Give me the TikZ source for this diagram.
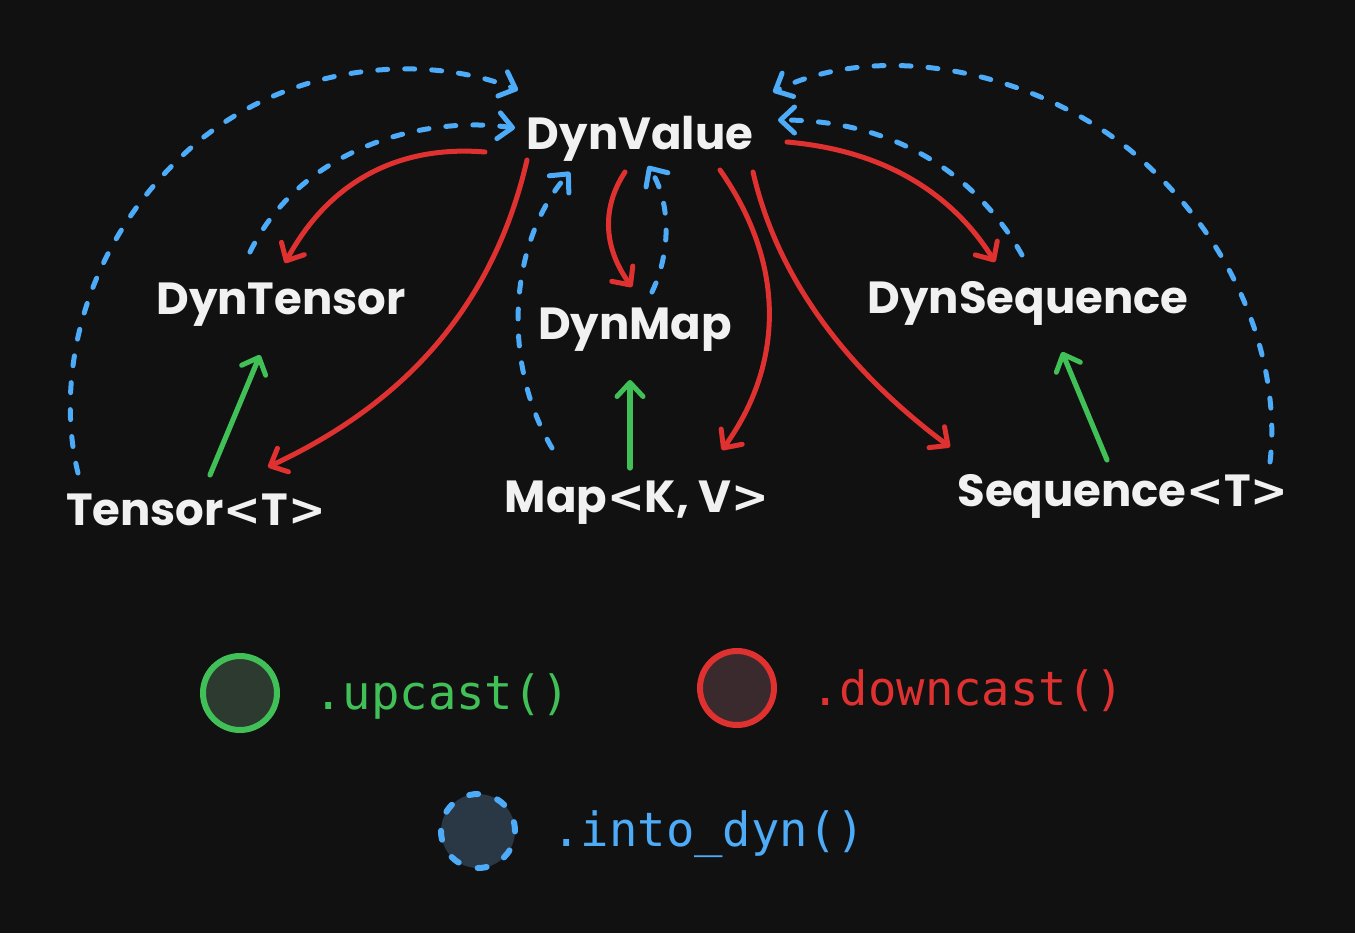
\documentclass[tikz,border=0pt]{standalone}
\usepackage{fontspec}
\setmainfont{Poppins}
\newfontfamily\codefont{DejaVu Sans Mono}
\newfontfamily\brfont{DejaVu Sans}
\newcommand{\lab}{{\brfont\bfseries<}}
\newcommand{\rab}{{\brfont\bfseries>}}
\usetikzlibrary{arrows.meta}
\definecolor{bg}{HTML}{111111}
\definecolor{txt}{HTML}{F1F1F1}
\definecolor{cblue}{HTML}{4DABF7}
\definecolor{cred}{HTML}{E03131}
\definecolor{cgreen}{HTML}{40C057}
\definecolor{fgreen}{HTML}{2C3A30}
\definecolor{fred}{HTML}{3A2A2D}
\definecolor{fblue}{HTML}{2A3744}
\tikzset{
  x=0.5pt, y=-0.5pt,
  lbl/.style={text=txt, font=\bfseries\fontsize{22.5}{26}\selectfont, inner sep=0pt},
  tip/.style={-{Straight Barb[length=7pt,width=13pt,line width=2.5pt,line cap=round,line join=round]}},
  intodyn/.style={tip, draw=cblue, line width=2.5pt, line cap=round, dash pattern=on 5pt off 8.5pt},
  downc/.style={tip, draw=cred, line width=2.5pt, line cap=round},
  upc/.style={tip, draw=cgreen, line width=2.6pt, line cap=round},
  legcirc/.style={circle, minimum size=37pt, line width=3pt, inner sep=0pt},
  legtxt/.style={font=\codefont\fontsize{23.6}{27}\selectfont, anchor=west, inner sep=0pt},
}
\begin{document}
\begin{tikzpicture}
\fill[bg] (0,0) rectangle (1355,933);
\useasboundingbox (0,0) rectangle (1355,933);

\node[lbl] (dv) at (640,139) {DynValue};
\node[lbl] (dt) at (281,305) {DynTensor};
\node[lbl] (dm) at (635,330) {DynMap};
\node[lbl] (ds) at (1028,303) {DynSequence};
\node[lbl] (t) at (196,510) {Tensor\lab T\rab};
\node[lbl] (m) at (637,503) {Map\lab K, V\rab};
\node[lbl] (s) at (1123,496) {Sequence\lab T\rab};

% into_dyn (blue dashed)
\draw[intodyn] ([shift={(-118,-37)}]t.center) .. controls (55,380) and (80,240) .. (200,140)
   .. controls (300,60) and (430,55) .. ([shift={(-122,-49)}]dv.center);
\draw[intodyn] ([shift={(-31,-53)}]dt.center) .. controls (300,150) and (420,115) .. ([shift={(-125,-11)}]dv.center);
\draw[intodyn] ([shift={(-85,-55)}]m.center) .. controls (500,360) and (510,240) .. ([shift={(-70,33)}]dv.center);
\draw[intodyn] ([shift={(17,-38)}]dm.center) .. controls (672,250) and (670,200) .. ([shift={(8,27)}]dv.center);
\draw[intodyn] ([shift={(-6,-48)}]ds.center) .. controls (980,180) and (900,120) .. ([shift={(138,-19)}]dv.center);
\draw[intodyn] ([shift={(147,-34)}]s.center) .. controls (1280,380) and (1250,250) .. (1130,150)
   .. controls (1030,70) and (880,40) .. ([shift={(133,-47)}]dv.center);

% downcast (red)
\draw[downc] ([shift={(-155,13)}]dv.center) .. controls (400,145) and (330,180) .. ([shift={(4,-42)}]dt.center);
\draw[downc] ([shift={(-113,21)}]dv.center) .. controls (490,320) and (390,410) .. ([shift={(72,-43)}]t.center);
\draw[downc] ([shift={(-15,33)}]dv.center) .. controls (600,210) and (605,250) .. ([shift={(-3,-43)}]dm.center);
\draw[downc] ([shift={(80,31)}]dv.center) .. controls (790,270) and (780,370) .. ([shift={(85,-53)}]m.center);
\draw[downc] ([shift={(113,33)}]dv.center) .. controls (780,290) and (860,380) .. ([shift={(-173,-49)}]s.center);
\draw[downc] ([shift={(147,3)}]dv.center) .. controls (880,150) and (950,190) .. ([shift={(-33,-41)}]ds.center);

% upcast (green)
\draw[upc] ([shift={(14,-35)}]t.center) -- ([shift={(-21,50)}]dt.center);
\draw[upc] ([shift={(-7,-35)}]m.center) -- ([shift={(-5,50)}]dm.center);
\draw[upc] ([shift={(-16,-36)}]s.center) -- ([shift={(34,49)}]ds.center);

% legend
\node[legcirc, draw=cgreen, fill=fgreen] (lg) at (240,693) {};
\node[legtxt, text=cgreen] (lgt) at (314,696) {.upcast()};
\node[legcirc, draw=cred, fill=fred] (lr) at (737,688) {};
\node[legtxt, text=cred] (lrt) at (811,691) {.downcast()};
\node[legcirc, draw=cblue, fill=fblue, dash pattern=on 4.5pt off 10pt, line cap=round] (lb) at (478,831) {};
\node[legtxt, text=cblue] (lbt) at (552,834) {.into\_dyn()};
\end{tikzpicture}
\end{document}
